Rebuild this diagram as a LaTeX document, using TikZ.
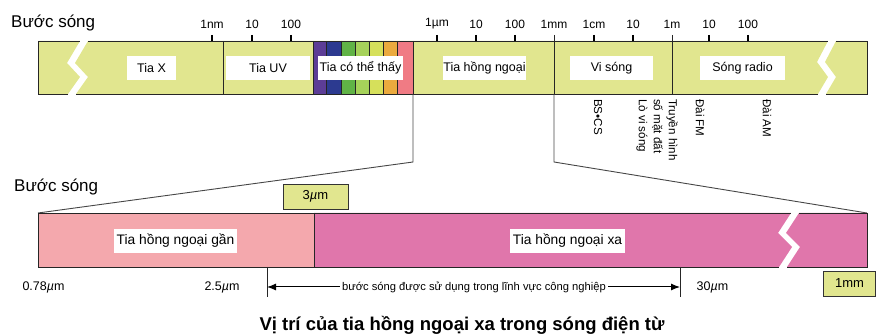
\documentclass[tikz,border=0pt]{standalone}
\usepackage{fontspec}
\setmainfont{Liberation Sans}
\usetikzlibrary{arrows.meta}
\definecolor{barY}{RGB}{225,230,143}
\definecolor{vPurple}{RGB}{92,61,150}
\definecolor{vBlue}{RGB}{44,58,144}
\definecolor{vGreen}{RGB}{96,179,70}
\definecolor{vLGreen}{RGB}{166,210,90}
\definecolor{vYellow}{RGB}{214,224,91}
\definecolor{vOrange}{RGB}{235,170,62}
\definecolor{vPink}{RGB}{240,123,132}
\definecolor{nearIR}{RGB}{244,168,173}
\definecolor{farIR}{RGB}{224,118,171}
\definecolor{connGray}{RGB}{70,70,70}
\begin{document}
\begin{tikzpicture}[x=1pt,y=-1pt,
  lbl/.style={fill=white, inner sep=0pt, minimum height=24pt, font=\fontsize{12.5}{14}\selectfont},
  lblb/.style={fill=white, inner sep=0pt, minimum height=24pt, font=\fontsize{13.8}{15}\selectfont},
  ticklbl/.style={font=\fontsize{12}{14}\selectfont, inner sep=0pt},
  tickmark/.style={line width=2.2pt},
  edge/.style={line width=0.8pt, draw=black!85},
  conn/.style={line width=0.9pt, draw=connGray},
  rot/.style={rotate=-90, anchor=west, inner sep=0pt, align=left, font=\fontsize{11.6}{15}\selectfont},
  ybox/.style={draw=black!80, line width=0.8pt, fill=barY, inner sep=0pt, minimum height=25pt, font=\fontsize{13}{14}\selectfont},
  small/.style={font=\fontsize{12.5}{14}\selectfont, inner sep=0pt},
  head/.style={font=\fontsize{17}{19}\selectfont, inner sep=0pt, anchor=west}]
\useasboundingbox (0,0) rectangle (876,336);

% ---------- top bar ----------
\fill[barY] (38,41) -- (80,41) -- (67,63) -- (80,77) -- (68,94) -- (38,94) -- cycle;
\fill[barY] (88,41) -- (828,41) -- (817,62) -- (828,77) -- (818,94) -- (76,94) -- (88,77) -- (75,63) -- cycle;
\fill[barY] (836,41) -- (867,41) -- (867,94) -- (826,94) -- (836,77) -- (825,62) -- cycle;
\fill[vPurple] (313,41) rectangle (326,94);
\fill[vBlue] (326,41) rectangle (341,94);
\fill[vGreen] (341,41) rectangle (355,94);
\fill[vLGreen] (355,41) rectangle (369,94);
\fill[vYellow] (369,41) rectangle (383,94);
\fill[vOrange] (383,41) rectangle (397,94);
\fill[vPink] (397,41) rectangle (413,94);
\draw[edge] (38,94) -- (38,41) -- (80,41) (88,41) -- (828,41) (836,41) -- (867,41) -- (867,94) -- (826,94)
  (818,94) -- (76,94) (68,94) -- (38,94);
\foreach \xx in {223,313,326,341,355,369,383,397,413}
  \draw[edge] (\xx,41) -- (\xx,94);
\draw[edge] (554,35) -- (554,94);
\draw[edge] (672,35) -- (672,94);

% ticks
\foreach \xx in {212,252,291,437,476,515,594,633,709,748}
  \draw[tickmark] (\xx,35) -- (\xx,41);
\node[ticklbl] (t1nm) at (212,24) {1nm};
\node[ticklbl] (t10a) at (252,24) {10};
\node[ticklbl] (t100a) at (291,24) {100};
\node[ticklbl] (t1um) at (437,24) {1µm};
\node[ticklbl] (t10b) at (476,24) {10};
\node[ticklbl] (t100b) at (515,24) {100};
\node[ticklbl] (t1mm) at (554,24) {1mm};
\node[ticklbl] (t1cm) at (594,24) {1cm};
\node[ticklbl] (t10c) at (633,24) {10};
\node[ticklbl] (t1m) at (672,24) {1m};
\node[ticklbl] (t10d) at (709,24) {10};
\node[ticklbl] (t100d) at (748,24) {100};

\node[head] (bs1) at (11,23) {Bước sóng};

% band labels
\node[lbl, minimum width=49pt] (lx) at (151.5,68) {Tia X};
\node[lbl, minimum width=84pt] (luv) at (268,68) {Tia UV};
\node[lbl, minimum width=85pt] (lvis) at (360.5,68) {Tia có thể thấy};
\node[lbl, minimum width=81pt] (lir) at (484.5,68) {Tia hồng ngoại};
\node[lbl, minimum width=83pt] (lmw) at (611.5,68) {Vi sóng};
\node[lbl, minimum width=85pt] (lrad) at (742.5,68) {Sóng radio};

% rotated labels
\node[rot] (bscs) at (598,99) {BS•CS};
\node[rot] (tv) at (657,99) {Truyền hình\\số mặt đất\\Lò vi sóng};
\node[rot] (fm) at (700,99) {Đài FM};
\node[rot] (am) at (767,99) {Đài AM};

% ---------- connectors ----------
\coordinate (irL) at (413,94);
\coordinate (irR) at (554,94);
\coordinate (kL) at (413,162);
\coordinate (kR) at (554,162);
\coordinate (bL) at (38,213);
\coordinate (bR) at (867,213);
\draw[conn] (irL) -- (kL) -- (bL);
\draw[conn] (irR) -- (kR) -- (bR);

% ---------- bottom bar ----------
\node[head] (bs2) at (14,187) {Bước sóng};
\fill[nearIR] (38,213) rectangle (314,267);
\fill[farIR] (314,213) -- (791,213) -- (778,233) -- (792,247) -- (779,267) -- (314,267) -- cycle;
\fill[farIR] (799,213) -- (867,213) -- (867,267) -- (787,267) -- (800,247) -- (786,233) -- cycle;
\draw[edge] (779,267) -- (38,267) -- (38,213) -- (791,213) (799,213) -- (867,213) -- (867,267) -- (787,267);
\draw[edge] (314,213) -- (314,267);

\node[lblb, minimum width=123pt] (lnear) at (175.5,241) {Tia hồng ngoại gần};
\node[lblb, minimum width=115pt] (lfar) at (567.5,241) {Tia hồng ngoại xa};

\node[ybox, minimum width=65pt] (b3) at (315.5,196.5) {3{\itshape µ}m};
\node[ybox, minimum width=52pt] (b1mm) at (849.5,283.5) {1mm};

\node[small] (l078) at (43.5,287) {0.78{\itshape µ}m};
\node[small] (l25) at (222,287) {2.5{\itshape µ}m};
\node[small] (l30) at (712.5,287) {30{\itshape µ}m};

\coordinate (v25t) at (267,267);
\coordinate (v25b) at (267,297);
\coordinate (v30t) at (680,267);
\coordinate (v30b) at (680,297);
\draw[edge] (v25t) -- (v25b);
\draw[edge] (v30t) -- (v30b);
\node[font=\fontsize{11.2}{12}\selectfont, inner sep=2pt] (use) at (474,287) {bước sóng được sử dụng trong lĩnh vực công nghiệp};
\draw[line width=1pt, -{Latex[length=9pt,width=7pt]}] (use.west) -- (use.west -| v25t);
\draw[line width=1pt, -{Latex[length=9pt,width=7pt]}] (use.east) -- (use.east -| v30t);

\node[font=\bfseries\fontsize{18.5}{20}\selectfont, inner sep=0pt] (title) at (462,325) {Vị trí của tia hồng ngoại xa trong sóng điện từ};
\end{tikzpicture}
\end{document}
